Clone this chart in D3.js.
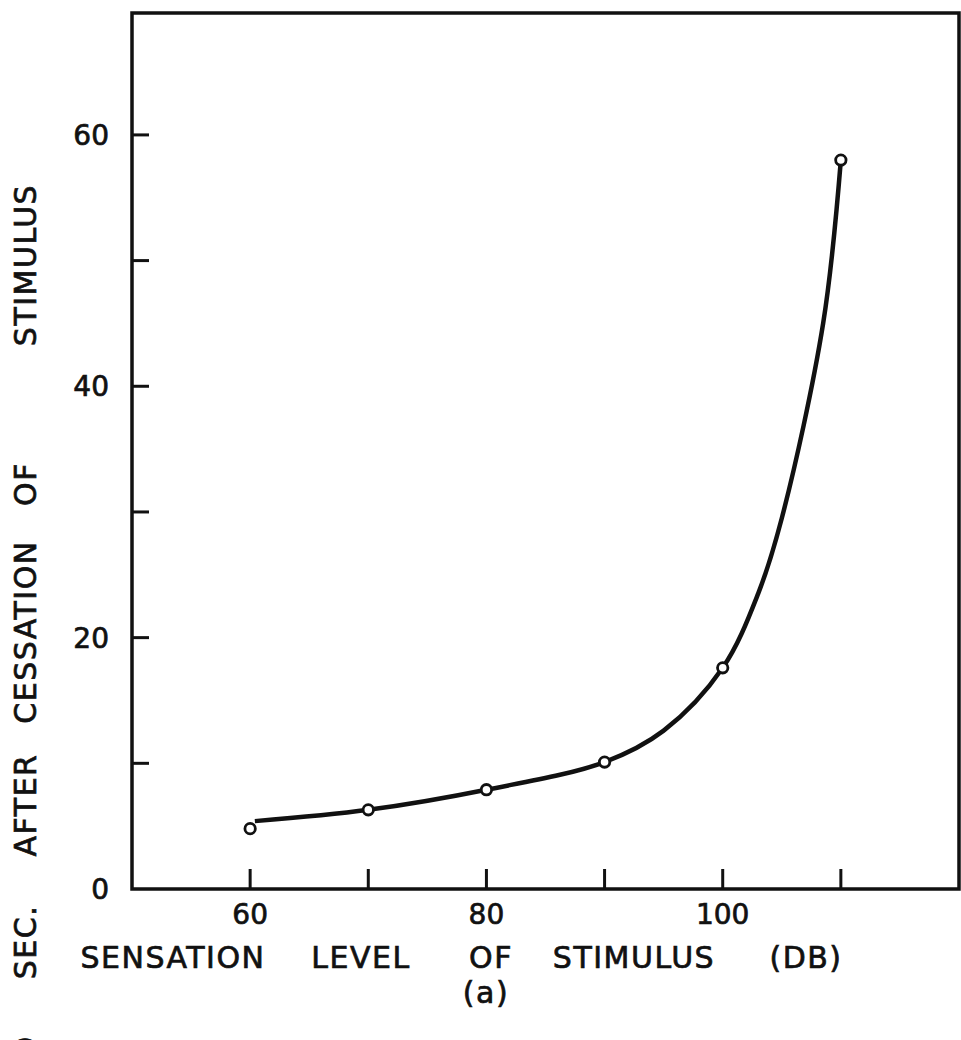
<!DOCTYPE html>
<html>
  <head>
    <title>Sensation level vs time</title>
    <script src="https://d3js.org/d3.v7.min.js"></script>
    <style>
      body { margin: 0; background: #fff; }
      text { font-family: "DejaVu Sans", sans-serif; fill: #111; stroke: #111; stroke-width: 0.7px; }
      .tick-label { font-size: 28px; }
      .axis-title { font-size: 30px; letter-spacing: 1.5px; }
    </style>
  </head>
  <body>
    <svg width="961" height="1040"></svg>
    <script>
      // measured points
      const levels = [60, 70, 80, 90, 100, 110];
      const seconds = [4.8, 6.3, 7.9, 10.1, 17.6, 58.0];

      // hand-drawn smooth curve
      const curveX = [60.4, 70, 80, 90, 95, 100, 103, 105, 108.5, 110];
      const curveY = [5.4, 6.3, 7.9, 10.1, 12.6, 17.6, 23.5, 29.5, 45, 58];

      const xTicks = [60, 70, 80, 90, 100, 110];
      const xTickLabels = [60, 80, 100];
      const yTicks = [10, 20, 30, 40, 50, 60];
      const yTickLabels = [0, 20, 40, 60];

      const xWords = ["SENSATION", "LEVEL", "OF", "STIMULUS", "(DB)"];
      const yWords = ["O", "SEC.", "AFTER", "CESSATION", "OF", "STIMULUS"];

      const svg = d3.select("svg");
      const plotL = 132, plotR = 959, plotT = 13, plotB = 889;

      const x = d3.scaleLinear().domain([50, 120]).range([plotL, plotR]);
      const y = d3.scaleLinear().domain([0, 69.7]).range([plotB, plotT]);

      // frame
      svg.append("path")
        .attr("d", `M${plotL},${plotB}V${plotT}H${plotR}V${plotB}Z`)
        .attr("fill", "none")
        .attr("stroke", "#111")
        .attr("stroke-width", 3.5);

      // y ticks (inward)
      svg.append("g").selectAll("line").data(yTicks).join("line")
        .attr("x1", plotL).attr("x2", plotL + 17)
        .attr("y1", d => y(d)).attr("y2", d => y(d))
        .attr("stroke", "#111").attr("stroke-width", 3);
      svg.append("g").selectAll("text").data(yTickLabels).join("text")
        .attr("class", "tick-label")
        .attr("x", 109).attr("y", d => y(d) + 10)
        .attr("text-anchor", "end")
        .text(d => d);

      // x ticks (upward)
      svg.append("g").selectAll("line").data(xTicks).join("line")
        .attr("x1", d => x(d)).attr("x2", d => x(d))
        .attr("y1", plotB).attr("y2", plotB - 20)
        .attr("stroke", "#111").attr("stroke-width", 3);
      svg.append("g").selectAll("text").data(xTickLabels).join("text")
        .attr("class", "tick-label")
        .attr("x", d => x(d)).attr("y", 924)
        .attr("text-anchor", "middle")
        .text(d => d);

      // curve
      const line = d3.line()
        .x(d => x(d[0])).y(d => y(d[1]))
        .curve(d3.curveCatmullRom.alpha(0.5));
      svg.append("path")
        .datum(d3.zip(curveX, curveY))
        .attr("d", line)
        .attr("fill", "none")
        .attr("stroke", "#111")
        .attr("stroke-width", 4.5);

      // points
      svg.append("g").selectAll("circle").data(d3.zip(levels, seconds)).join("circle")
        .attr("cx", d => x(d[0])).attr("cy", d => y(d[1]))
        .attr("r", 5.2)
        .attr("fill", "#fff")
        .attr("stroke", "#111")
        .attr("stroke-width", 2.8);

      // x title, words spread out like the hand lettering
      const xWordCenters = [173, 361, 491, 634, 806];
      svg.append("g").selectAll("text").data(xWords).join("text")
        .attr("class", "axis-title")
        .attr("x", (d, i) => xWordCenters[i]).attr("y", 968)
        .attr("text-anchor", "middle")
        .text(d => d);

      svg.append("text")
        .attr("class", "axis-title")
        .attr("x", 486).attr("y", 1003)
        .attr("text-anchor", "middle")
        .text("(a)");

      // y title, rotated
      const yWordCenters = [1048, 942, 805, 632, 484, 265];
      svg.append("g").selectAll("text").data(yWords).join("text")
        .attr("class", "axis-title")
        .attr("transform", (d, i) => `translate(36,${yWordCenters[i]}) rotate(-90)`)
        .attr("text-anchor", "middle")
        .text(d => d);
    </script>
  </body>
</html>
